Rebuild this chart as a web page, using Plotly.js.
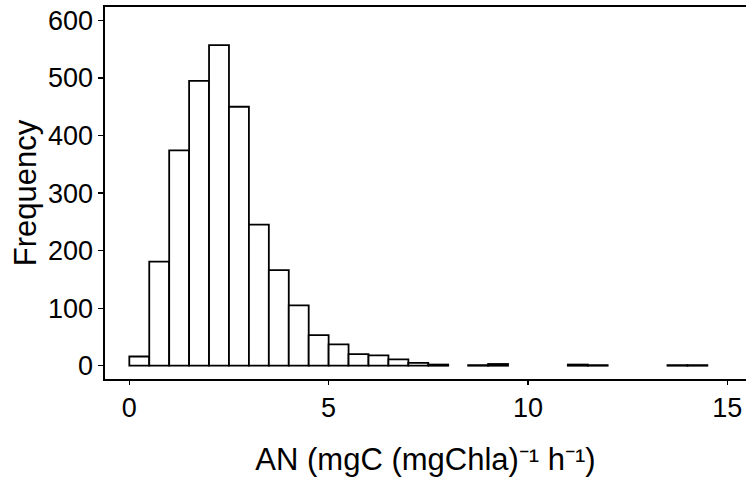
<!DOCTYPE html>
<html>
<head>
<meta charset="utf-8">
<script src="https://cdn.plot.ly/plotly-3.0.1.min.js"></script>
<style>html,body{margin:0;padding:0;background:#fff;}#chart{width:746px;height:477px;}</style>
</head>
<body>
<div id="chart"></div>
<script>
// Histogram bins (width 0.5) and counts
const binStarts = [0,0.5,1,1.5,2,2.5,3,3.5,4,4.5,5,5.5,6,6.5,7,7.5,8,8.5,9,9.5,10,10.5,11,11.5,12,12.5,13,13.5,14];
const counts    = [16,181,374,495,557,450,245,166,105,53,37,20,18,11,5,2,0,1,3,0,0,0,2,1,0,0,0,1,1];
const binWidth = 0.5;
const xTicks = [0,5,10,15];
const yTicks = [0,100,200,300,400,500,600];
const xTitle = "AN (mgC (mgChla)\u207B\u00B9 h\u207B\u00B9)";
const yTitle = "Frequency";

const xs = [], ys = [];
binStarts.forEach((b,i)=>{ if(counts[i]>0){ xs.push(b+binWidth/2); ys.push(counts[i]); }});

const font = "Liberation Sans, Arial, sans-serif";
const trace = {
  type: 'bar', x: xs, y: ys, width: binWidth,
  marker: {color: 'white', line: {color: 'black', width: 1.8}},
  hoverinfo: 'x+y'
};
const layout = {
  width: 746, height: 477,
  margin: {l: 105, r: 0, t: 7, b: 98},
  paper_bgcolor: 'white', plot_bgcolor: 'white',
  showlegend: false, bargap: 0,
  font: {family: font, color: 'black'},
  xaxis: {
    range: [-0.61, 15.47], tickvals: xTicks, ticktext: xTicks.map(String),
    showgrid: false, zeroline: false, showline: true, mirror: true,
    linecolor: 'black', linewidth: 1.6,
    ticks: 'outside', ticklen: 4, tickwidth: 1.2, tickcolor: 'black',
    tickfont: {size: 27, family: font, color: 'black'},
    title: {text: xTitle, font: {size: 31, family: font, color: 'black'}, standoff: 26},
    automargin: false
  },
  yaxis: {
    range: [-23.1, 623.3], tickvals: yTicks, ticktext: yTicks.map(String),
    showgrid: false, zeroline: false, showline: true, mirror: false,
    linecolor: 'black', linewidth: 1.6,
    ticks: 'outside', ticklen: 5, tickwidth: 1.2, tickcolor: 'black',
    tickfont: {size: 27, family: font, color: 'black'},
    title: {text: yTitle, font: {size: 31, family: font, color: 'black'}, standoff: 2},
    automargin: false
  }
};
Plotly.newPlot('chart', [trace], layout, {displayModeBar: false, staticPlot: true});
</script>
</body>
</html>
